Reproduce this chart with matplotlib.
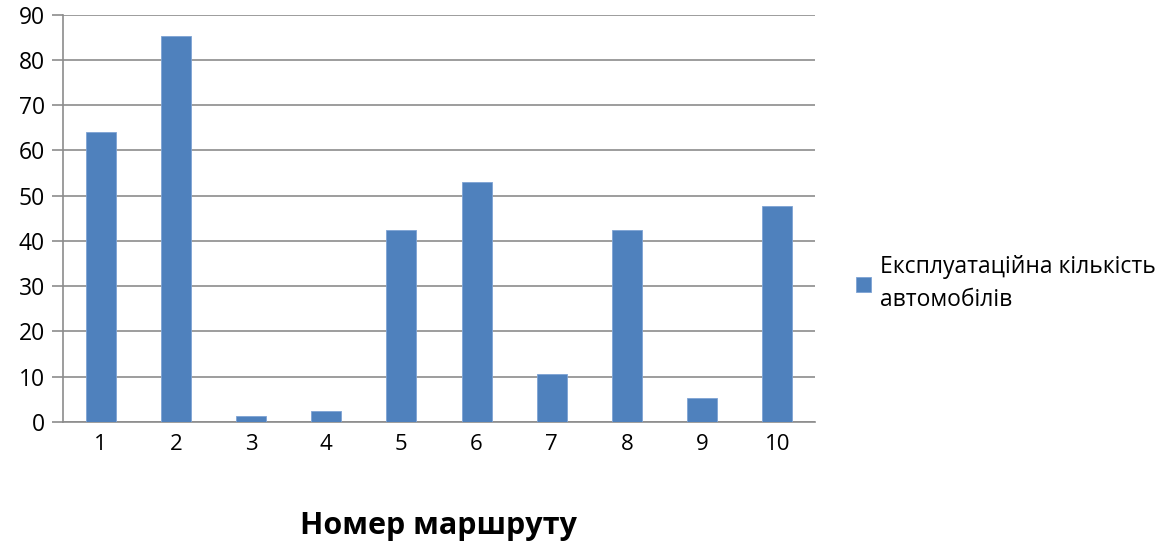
import matplotlib.pyplot as plt

routes = ['1', '2', '3', '4', '5', '6', '7', '8', '9', '10']
cars = [64, 85.3, 1.3, 2.4, 42.3, 53.1, 10.5, 42.3, 5.2, 47.8]
series_name = 'Експлуатаційна кількість\nавтомобілів'

plt.rcParams['font.family'] = ['Open Sans', 'DejaVu Sans']

fig = plt.figure(figsize=(11.75, 5.44), dpi=100)
ax = fig.add_axes([63 / 1175, 1 - 422 / 544, (815 - 63) / 1175, (422 - 14.5) / 544])

x = list(range(1, len(routes) + 1))
ax.bar(x, cars, width=0.4, color='#4f81bd', edgecolor='#7ea3d4', linewidth=0.6,
       zorder=3, label=series_name)

ax.set_xlim(0.5, len(routes) + 0.5)
ax.set_ylim(0, 90)
ax.set_yticks(range(0, 91, 10))
ax.set_xticks(x)
ax.set_xticklabels(routes)
ax.yaxis.grid(True, color='#8c8c8c', linewidth=1.2, zorder=0)

for side in ('top', 'right'):
    ax.spines[side].set_visible(False)
ax.spines['left'].set_color('#8c8c8c')
ax.spines['bottom'].set_color('#8c8c8c')
ax.spines['left'].set_linewidth(1.2)
ax.spines['bottom'].set_linewidth(1.2)
ax.tick_params(axis='y', length=8, width=1.2, color='#8c8c8c', labelsize=16.5, pad=5)
ax.tick_params(axis='x', length=0, labelsize=16, pad=9)

fig.text(438 / 1175, 1 - 526 / 544, 'Номер маршруту', ha='center', va='center',
         fontsize=22, fontweight='bold')

ax.legend(loc='center left', bbox_to_anchor=(1.027, 0.34), frameon=False,
          fontsize=16.5, handlelength=0.65, handleheight=0.65, handletextpad=0.4,
          labelspacing=0.5)
plt.setp(ax.get_legend().get_texts(), linespacing=1.45)

fig.savefig('out.png', dpi=100)
